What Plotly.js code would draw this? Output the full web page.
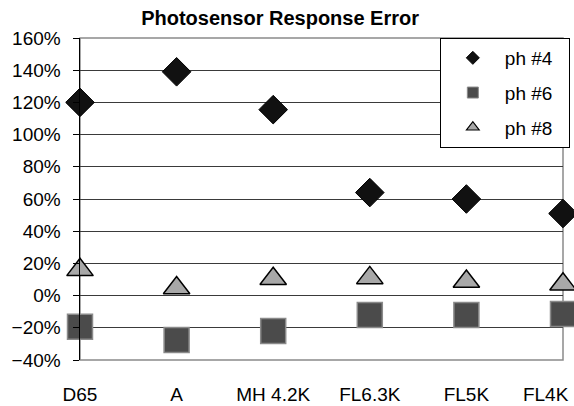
<!DOCTYPE html>
<html>
<head>
<meta charset="utf-8">
<script src="https://cdn.plot.ly/plotly-3.0.1.min.js"></script>
<style>html,body{margin:0;padding:0;background:#fff;}#chart{width:574px;height:406px;}</style>
</head>
<body>
<div id="chart"></div>
<script>
const categories = ["D65", "A", "MH 4.2K", "FL6.3K", "FL5K", "FL4K"];
const seriesNames = ["ph #4", "ph #6", "ph #8"];
const ph4 = [1.20, 1.39, 1.155, 0.64, 0.60, 0.51];
const ph6 = [-0.193, -0.276, -0.22, -0.12, -0.12, -0.114];
const ph8 = [0.16, 0.047, 0.105, 0.11, 0.088, 0.07];
const yTicks = [-0.4, -0.2, 0, 0.2, 0.4, 0.6, 0.8, 1.0, 1.2, 1.4, 1.6];

const xIdx = categories.map((c, i) => i);
// the last label is nudged inward (as in the reference) so it stays on the page
const labelPos = xIdx.map((v, i) => i === xIdx.length - 1 ? v - 0.18 : v);
const font = {family: "Liberation Sans, Arial, sans-serif", size: 19, color: "#000"};
const pad = "\u00a0\u00a0";

const series = [
  {name: seriesNames[0], y: ph4, group: "a",
   marker: {symbol: "diamond", size: 22, color: "#111111", line: {color: "#000", width: 1}},
   legendMarker: {symbol: "diamond", size: 10, color: "#111111", line: {color: "#000", width: 1}}},
  {name: seriesNames[1], y: ph6, group: "b",
   marker: {symbol: "square", size: 25, color: "#4b4b4b", line: {color: "#8a8a8a", width: 1.5}},
   legendMarker: {symbol: "square", size: 11, color: "#4b4b4b", line: {color: "#8a8a8a", width: 1}}},
  {name: seriesNames[2], y: ph8, group: "c",
   marker: {symbol: "triangle-up", size: 23, color: "#a8a8a8", line: {color: "#000", width: 1.5}},
   legendMarker: {symbol: "triangle-up", size: 11, color: "#a8a8a8", line: {color: "#000", width: 1.2}}}
];

const traces = [];
series.forEach(s => {
  traces.push({x: xIdx, y: s.y, name: s.name, mode: "markers", type: "scatter", cliponaxis: false,
               showlegend: false, legendgroup: s.group, marker: s.marker});
});
series.forEach(s => {
  traces.push({x: [null], y: [null], name: s.name + pad, mode: "markers", type: "scatter",
               showlegend: true, legendgroup: s.group, marker: s.legendMarker});
});

const layout = {
  width: 574, height: 406,
  margin: {l: 80, r: 11, t: 38, b: 46, autoexpand: false},
  paper_bgcolor: "#fff", plot_bgcolor: "#fff",
  font: font,
  showlegend: true,
  title: {text: "<b>Photosensor Response Error</b>", x: 0.488, xanchor: "center", y: 0.955, yanchor: "middle",
          font: {family: "Liberation Sans, Arial, sans-serif", size: 20, color: "#000"}},
  xaxis: {
    range: [0, 5], tickmode: "array", tickvals: labelPos, ticktext: categories,
    showgrid: false, zeroline: false, showline: false, ticks: "", ticklabelstandoff: 21,
    ticklabeloverflow: "allow", tickfont: font, fixedrange: true, automargin: false
  },
  yaxis: {
    range: [-0.4, 1.6], tickmode: "array", tickvals: yTicks, tickformat: ".0%",
    showgrid: true, gridcolor: "#3a3a3a", gridwidth: 1, zeroline: false,
    showline: true, linecolor: "#000", linewidth: 1.5,
    ticks: "outside", ticklen: 6, tickcolor: "#000", ticklabelstandoff: 8,
    tickfont: font, fixedrange: true, automargin: false
  },
  shapes: [
    {type: "rect", xref: "paper", yref: "paper", x0: 0, x1: 1, y0: 0, y1: 1,
     line: {color: "#8a8a8a", width: 1.5}, layer: "below"}
  ],
  legend: {
    x: 0.745, xanchor: "left", y: 1, yanchor: "top",
    bgcolor: "#fff", bordercolor: "#000", borderwidth: 1,
    font: font, itemwidth: 54, tracegroupgap: 7
  }
};

Plotly.newPlot("chart", traces, layout, {displayModeBar: false, staticPlot: true});
</script>
</body>
</html>
